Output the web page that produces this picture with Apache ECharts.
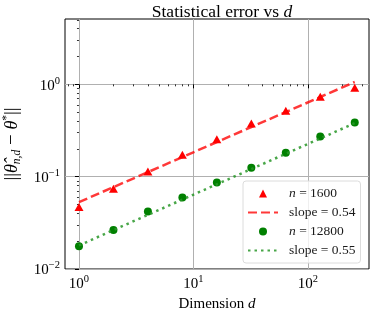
<!DOCTYPE html>
<html>
<head>
<meta charset="utf-8">
<script src="https://cdn.jsdelivr.net/npm/echarts@6/dist/echarts.min.js"></script>
<style>html,body{margin:0;padding:0;background:#fff}#c{width:374px;height:312px}</style>
</head>
<body>
<div id="c"></div>
<script>
// Data
var dims = [1, 2, 4, 8, 16, 32, 64, 128, 256];
var err1600 = [0.047, 0.074, 0.114, 0.173, 0.254, 0.377, 0.517, 0.733, 0.918];
var fit1600 = [0.053, 0.0771, 0.112, 0.163, 0.237, 0.345, 0.501, 0.729, 1.06];
var err12800 = [0.0176, 0.0265, 0.042, 0.0596, 0.0867, 0.125, 0.182, 0.272, 0.386];
var fit12800 = [0.018, 0.0264, 0.0386, 0.0565, 0.0827, 0.121, 0.177, 0.259, 0.380];
var seriesNames = ['n = 1600', 'slope = 0.54', 'n = 12800', 'slope = 0.55'];
var xMajor = [1, 10, 100];
var yMajor = [0.01, 0.1, 1];
var xRange = [0.755, 341];
var yRange = [0.01, 5.1];

var L = Math.log10;
function pts(xs, ys) { return xs.map(function (x, i) { return [L(x), L(ys[i])]; }); }
function minorList(lo, hi) {
  var out = [];
  for (var p = -3; p <= 3; p++) for (var k = 2; k <= 9; k++) {
    var v = k * Math.pow(10, p);
    if (v >= lo && v <= hi) out.push(L(v));
  }
  return out;
}
var FONT = 'Liberation Serif';
var supRich = {
  b: { fontFamily: FONT, fontSize: 15, color: '#000', lineHeight: 18, verticalAlign: 'bottom' },
  s: { fontFamily: FONT, fontSize: 10.5, color: '#000', lineHeight: 18, verticalAlign: 'top' }
};
function powLabel(v) {
  var e = Math.round(v);
  var es = e < 0 ? '\u2212' + (-e) : '' + e;
  return '{b|10}{s|' + es + '}';
}
var TRI = 'path://M0,-1L1,1L-1,1Z';
var CIR = 'path://M1,0A1,1,0,1,1,-1,0A1,1,0,1,1,1,0Z';
var chart = echarts.init(document.getElementById('c'), null, { renderer: 'canvas' });
var xMin = L(xRange[0]), xMax = L(xRange[1]), yMin = L(yRange[0]), yMax = L(yRange[1]);
var option = {
  animation: false,
  backgroundColor: '#fff',
  title: {
    text: 'Statistical error vs {i|d}',
    left: 217, top: -3, textAlign: 'center',
    textStyle: {
      fontFamily: FONT, fontSize: 17.5, fontWeight: 'normal', color: '#000', lineHeight: 20,
      rich: { i: { fontFamily: FONT, fontSize: 17.5, fontStyle: 'italic', color: '#000', lineHeight: 20 } }
    }
  },
  grid: { left: 65, right: 5, top: 19, bottom: 43, containLabel: false, outerBoundsMode: 'none',
    show: true, borderColor: '#000', borderWidth: 1, backgroundColor: 'transparent' },
  legend: {
    orient: 'vertical', left: 243, top: 181,
    data: [
      { name: seriesNames[0], icon: TRI },
      { name: seriesNames[1], itemStyle: { opacity: 0 } },
      { name: seriesNames[2], icon: CIR },
      { name: seriesNames[3], itemStyle: { opacity: 0 } }
    ],
    symbolKeepAspect: true,
    itemWidth: 30, itemHeight: 8, itemGap: 4,
    padding: [5, 5, 5, 4],
    backgroundColor: 'rgba(255,255,255,0.8)',
    borderColor: '#dcdcdc', borderWidth: 1, borderRadius: 3,
    textStyle: {
      fontFamily: FONT, fontSize: 13.5, color: '#1a1a1a', lineHeight: 15, padding: [0, 0, 0, 6],
      rich: { i: { fontFamily: FONT, fontSize: 13.5, fontStyle: 'italic', color: '#1a1a1a', lineHeight: 15 } }
    },
    formatter: function (n) { return n.replace(/^n /, '{i|n} '); }
  },
  xAxis: [{
    type: 'value', min: xMin, max: xMax,
    name: 'Dimension {i|d}', nameLocation: 'middle', nameGap: 26,
    nameTextStyle: { fontFamily: FONT, fontSize: 15, color: '#000',
      rich: { i: { fontFamily: FONT, fontSize: 15, fontStyle: 'italic', color: '#000' } } },
    axisLine: { show: false },
    axisTick: { show: true, length: 4, lineStyle: { color: '#000', width: 1 }, customValues: xMajor.map(L) },
    axisLabel: { customValues: xMajor.map(L), formatter: powLabel, rich: supRich, margin: 5 },
    splitLine: { show: true, lineStyle: { color: '#b0b0b0', width: 1 } }
  }, {
    type: 'value', min: xMin, max: xMax, position: 'bottom',
    axisLine: { show: false },
    axisTick: { show: true, length: 2, lineStyle: { color: '#000', width: 0.8 }, customValues: minorList(xRange[0], xRange[1]) },
    axisLabel: { show: false },
    splitLine: { show: false }
  }],
  yAxis: [{
    type: 'value', min: yMin, max: yMax,
    name: '{t|||}{v|\u03b8\u0302}{sub|n,d}{t| \u2212 }{v|\u03b8}{sup|*}{t|||}',
    nameLocation: 'middle', nameRotate: 90, nameGap: 40,
    nameTextStyle: {
      rich: {
        t: { fontFamily: FONT, fontSize: 19, color: '#000', lineHeight: 22, verticalAlign: 'middle' },
        v: { fontFamily: FONT, fontSize: 18, fontStyle: 'italic', color: '#000', lineHeight: 22, verticalAlign: 'middle' },
        sub: { fontFamily: FONT, fontSize: 11.5, fontStyle: 'italic', color: '#000', lineHeight: 22, verticalAlign: 'bottom' },
        sup: { fontFamily: FONT, fontSize: 11.5, color: '#000', lineHeight: 22, verticalAlign: 'top' }
      }
    },
    axisLine: { show: false },
    axisTick: { show: true, length: 4, lineStyle: { color: '#000', width: 1 }, customValues: yMajor.map(L) },
    axisLabel: { customValues: yMajor.map(L), formatter: powLabel, rich: supRich, margin: 5 },
    splitLine: { show: true, lineStyle: { color: '#b0b0b0', width: 1 } }
  }, {
    type: 'value', min: yMin, max: yMax, position: 'left',
    axisLine: { show: false },
    axisTick: { show: true, length: 2, lineStyle: { color: '#000', width: 0.8 }, customValues: minorList(yRange[0], yRange[1]) },
    axisLabel: { show: false },
    splitLine: { show: false }
  }],
  series: [{
    name: seriesNames[0], type: 'scatter', data: pts(dims, err1600),
    symbol: 'triangle', symbolSize: [9, 8], itemStyle: { color: '#ff0000', opacity: 1 }, z: 3
  }, {
    name: seriesNames[1], type: 'line', data: pts(dims, fit1600), symbol: 'none',
    lineStyle: { color: 'rgba(255,0,0,0.78)', width: 2.5, type: [9, 4] },
    itemStyle: { color: 'rgba(255,0,0,0.78)' }, z: 4
  }, {
    name: seriesNames[2], type: 'scatter', data: pts(dims, err12800),
    symbol: 'circle', symbolSize: 8, itemStyle: { color: '#008000', opacity: 1 }, z: 3
  }, {
    name: seriesNames[3], type: 'line', data: pts(dims, fit12800), symbol: 'none',
    lineStyle: { color: 'rgba(40,150,40,0.85)', width: 2.5, type: [2.5, 4] },
    itemStyle: { color: 'rgba(40,150,40,0.85)' }, z: 4
  }]
};
chart.setOption(option);
</script>
</body>
</html>
